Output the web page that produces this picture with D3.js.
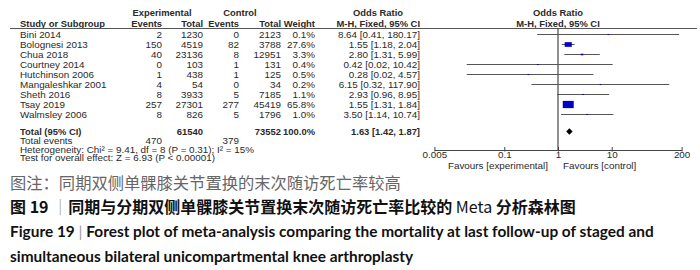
<!DOCTYPE html>
<html>
<head>
<meta charset="utf-8">
<script src="https://cdn.jsdelivr.net/npm/d3@7"></script>
<style>
  body { margin: 0; background: #fff; }
  text { font-family: "Liberation Sans", Arial, sans-serif; }
</style>
</head>
<body>
<script>
const studies = ['Bini 2014', 'Bolognesi 2013', 'Chua 2018', 'Courtney 2014', 'Hutchinson 2006',
    'Mangaleshkar 2001', 'Sheth 2016', 'Tsay 2019', 'Walmsley 2006']
const expEvents = [2, 150, 40, 0, 1, 4, 8, 257, 8]
const expTotal = [1230, 4519, 23136, 103, 438, 54, 3933, 27301, 826]
const ctrlEvents = [0, 82, 8, 1, 1, 0, 5, 277, 5]
const ctrlTotal = [2123, 3788, 12951, 131, 125, 34, 7185, 45419, 1796]
const weights = [0.1, 27.6, 3.3, 0.4, 0.5, 0.2, 1.1, 65.8, 1.0]
const oddsRatio = [8.64, 1.55, 2.80, 0.42, 0.28, 6.15, 2.93, 1.55, 3.50]
const ciLow = [0.41, 1.18, 1.31, 0.02, 0.02, 0.32, 0.96, 1.31, 1.14]
const ciHigh = [180.17, 2.04, 5.99, 10.42, 4.57, 117.90, 8.95, 1.84, 10.74]
const pooled = {or: 1.63, lo: 1.42, hi: 1.87}
const totals = {exp: 61540, ctrl: 73552, expEvents: 470, ctrlEvents: 379}
const axisTicks = [0.005, 0.1, 1, 10, 200]

const width = 700
const height = 270
const ink = '#2a2a2a'
const fontSize = 8.8
const stretch = 1.12

const svg = d3.select('body').append('svg')
    .attr('width', width)
    .attr('height', height)
    .style('background-color', 'white')

// text in the original is stretched sideways a bit
function txt(x, y, s, anchor, bold) {
    return svg.append('text')
        .attr('transform', `translate(${x},${y}) scale(${stretch},1)`)
        .attr('text-anchor', anchor || 'start')
        .style('font-size', (bold ? fontSize - 0.4 : fontSize) + 'px')
        .style('font-weight', bold ? 'bold' : 'normal')
        .style('fill', ink)
        .text(s)
}

const xScale = d3.scaleLog()
    .domain([0.005, 200])
    .range([434.4, 681.6])

const yScale = d3.scalePoint()
    .domain(studies)
    .range([34.5, 114.5])

const col = {study: 20, expEv: 162, expTot: 203, ctrlEv: 239, ctrlTot: 281, weight: 315, ci: 420}
const fmt2 = d3.format('.2f')
const ciText = (o, l, h) => `${fmt2(o)} [${fmt2(l)}, ${fmt2(h)}]`
const base = 3.2

// headers
txt(162, 13 + base, 'Experimental', 'middle', true)
txt(240, 13 + base, 'Control', 'middle', true)
txt(378, 13 + base, 'Odds Ratio', 'middle', true)
txt(xScale(1), 13 + base, 'Odds Ratio', 'middle', true)
txt(col.study, 23.5 + base, 'Study or Subgroup', 'start', true)
txt(col.expEv, 23.5 + base, 'Events', 'end', true)
txt(col.expTot, 23.5 + base, 'Total', 'end', true)
txt(col.ctrlEv, 23.5 + base, 'Events', 'end', true)
txt(col.ctrlTot, 23.5 + base, 'Total', 'end', true)
txt(col.weight, 23.5 + base, 'Weight', 'end', true)
txt(col.ci, 23.5 + base, 'M-H, Fixed, 95% CI', 'end', true)
txt(xScale(1), 23.5 + base, 'M-H, Fixed, 95% CI', 'middle', true)

const ruleY = 28.5
svg.append('line')
    .attr('x1', 10).attr('x2', 697)
    .attr('y1', ruleY).attr('y2', ruleY)
    .style('stroke', '#555')
    .style('stroke-width', 1)

// study rows
studies.forEach((s, i) => {
    const y = yScale(s) + base
    txt(col.study, y, s)
    txt(col.expEv, y, expEvents[i], 'end')
    txt(col.expTot, y, expTotal[i], 'end')
    txt(col.ctrlEv, y, ctrlEvents[i], 'end')
    txt(col.ctrlTot, y, ctrlTotal[i], 'end')
    txt(col.weight, y, weights[i].toFixed(1) + '%', 'end')
    txt(col.ci, y, ciText(oddsRatio[i], ciLow[i], ciHigh[i]), 'end')
})

const yTotal = 131.5
txt(col.study, yTotal + base, 'Total (95% CI)', 'start', true)
txt(col.expTot, yTotal + base, totals.exp, 'end', true)
txt(col.ctrlTot, yTotal + base, totals.ctrl, 'end', true)
txt(col.weight, yTotal + base, '100.0%', 'end', true)
txt(col.ci, yTotal + base, ciText(pooled.or, pooled.lo, pooled.hi), 'end', true)
txt(col.study, 141 + base, 'Total events')
txt(col.expEv, 141 + base, totals.expEvents, 'end')
txt(col.ctrlEv, 141 + base, totals.ctrlEvents, 'end')
txt(col.study, 149.5 + base, 'Heterogeneity: Chi\u00b2 = 9.41, df = 8 (P = 0.31); I\u00b2 = 15%')
txt(col.study, 158 + base, 'Test for overall effect: Z = 6.93 (P < 0.00001)')

// forest plot
const axisY = 150
svg.append('line')
    .attr('x1', xScale(1)).attr('x2', xScale(1))
    .attr('y1', ruleY).attr('y2', axisY)
    .style('stroke', '#222')
    .style('stroke-width', 1)

svg.append('g').selectAll('line')
    .data(studies)
    .join('line')
    .attr('x1', (d, i) => xScale(ciLow[i]))
    .attr('x2', (d, i) => xScale(ciHigh[i]))
    .attr('y1', d => yScale(d))
    .attr('y2', d => yScale(d))
    .style('stroke', '#555')
    .style('stroke-width', 1)

const boxW = w => Math.max(1.6, 13.5 * Math.sqrt(w / 100))
svg.append('g').selectAll('rect')
    .data(studies)
    .join('rect')
    .attr('x', (d, i) => xScale(oddsRatio[i]) - boxW(weights[i]) / 2)
    .attr('y', (d, i) => yScale(d) - boxW(weights[i]) * 0.33)
    .attr('width', (d, i) => boxW(weights[i]))
    .attr('height', (d, i) => boxW(weights[i]) * 0.66)
    .style('fill', '#0000c8')

svg.append('path')
    .attr('d', `M${xScale(pooled.lo)},${yTotal} L${xScale(pooled.or)},${yTotal - 3.3}
        L${xScale(pooled.hi)},${yTotal} L${xScale(pooled.or)},${yTotal + 3.3} Z`)
    .style('fill', 'black')

const axis = svg.append('g')
    .attr('transform', `translate(0,${axisY})`)
    .call(d3.axisBottom(xScale)
        .tickValues(axisTicks)
        .tickFormat(d => String(d))
        .tickSize(-3)
        .tickSizeOuter(0)
        .tickPadding(2))
axis.select('.domain').style('stroke', '#444')
axis.selectAll('.tick line').attr('y1', 1.5).style('stroke', '#444')
axis.selectAll('.tick text')
    .attr('transform', `scale(${stretch},1)`)
    .style('font-size', fontSize + 'px')
    .style('font-family', '"Liberation Sans", Arial, sans-serif')
    .style('fill', ink)

txt(xScale(1) - 10, 165.5 + base, 'Favours [experimental]', 'end')
txt(xScale(1) + 5, 165.5 + base, 'Favours [control]', 'start')

// caption
const cjk = '"Noto Sans CJK SC", sans-serif'
svg.append('text')
    .attr('x', 10).attr('y', 189)
    .style('font-family', cjk)
    .style('font-size', '16.3px')
    .style('fill', '#666')
    .text('图注：同期双侧单髁膝关节置换的末次随访死亡率较高')

const cap2 = svg.append('text')
    .attr('x', 10).attr('y', 213)
    .style('font-family', cjk)
    .style('font-size', '16px')
    .style('font-weight', 'bold')
    .style('fill', '#111')
cap2.append('tspan').text('图 19 ')
cap2.append('tspan').style('font-weight', 'normal').style('fill', '#999').text('｜')
cap2.append('tspan').text('同期与分期双侧单髁膝关节置换末次随访死亡率比较的 ')
cap2.append('tspan').style('font-weight', 'normal').text('Meta')
cap2.append('tspan').text(' 分析森林图')

const cap3 = svg.append('text')
    .attr('x', 10).attr('y', 236.5)
    .style('font-family', 'Lato, sans-serif')
    .style('font-size', '15.4px')
    .style('font-weight', 'bold')
    .style('fill', '#111')
cap3.append('tspan').text('Figure 19 ')
cap3.append('tspan').style('font-weight', 'normal').style('fill', '#999').text('| ')
cap3.append('tspan').text('Forest plot of meta-analysis comparing the mortality at last follow-up of staged and')

svg.append('text')
    .attr('x', 10).attr('y', 261.5)
    .style('font-family', 'Lato, sans-serif')
    .style('font-size', '15.4px')
    .style('font-weight', 'bold')
    .style('fill', '#111')
    .text('simultaneous bilateral unicompartmental knee arthroplasty')
</script>
</body>
</html>
